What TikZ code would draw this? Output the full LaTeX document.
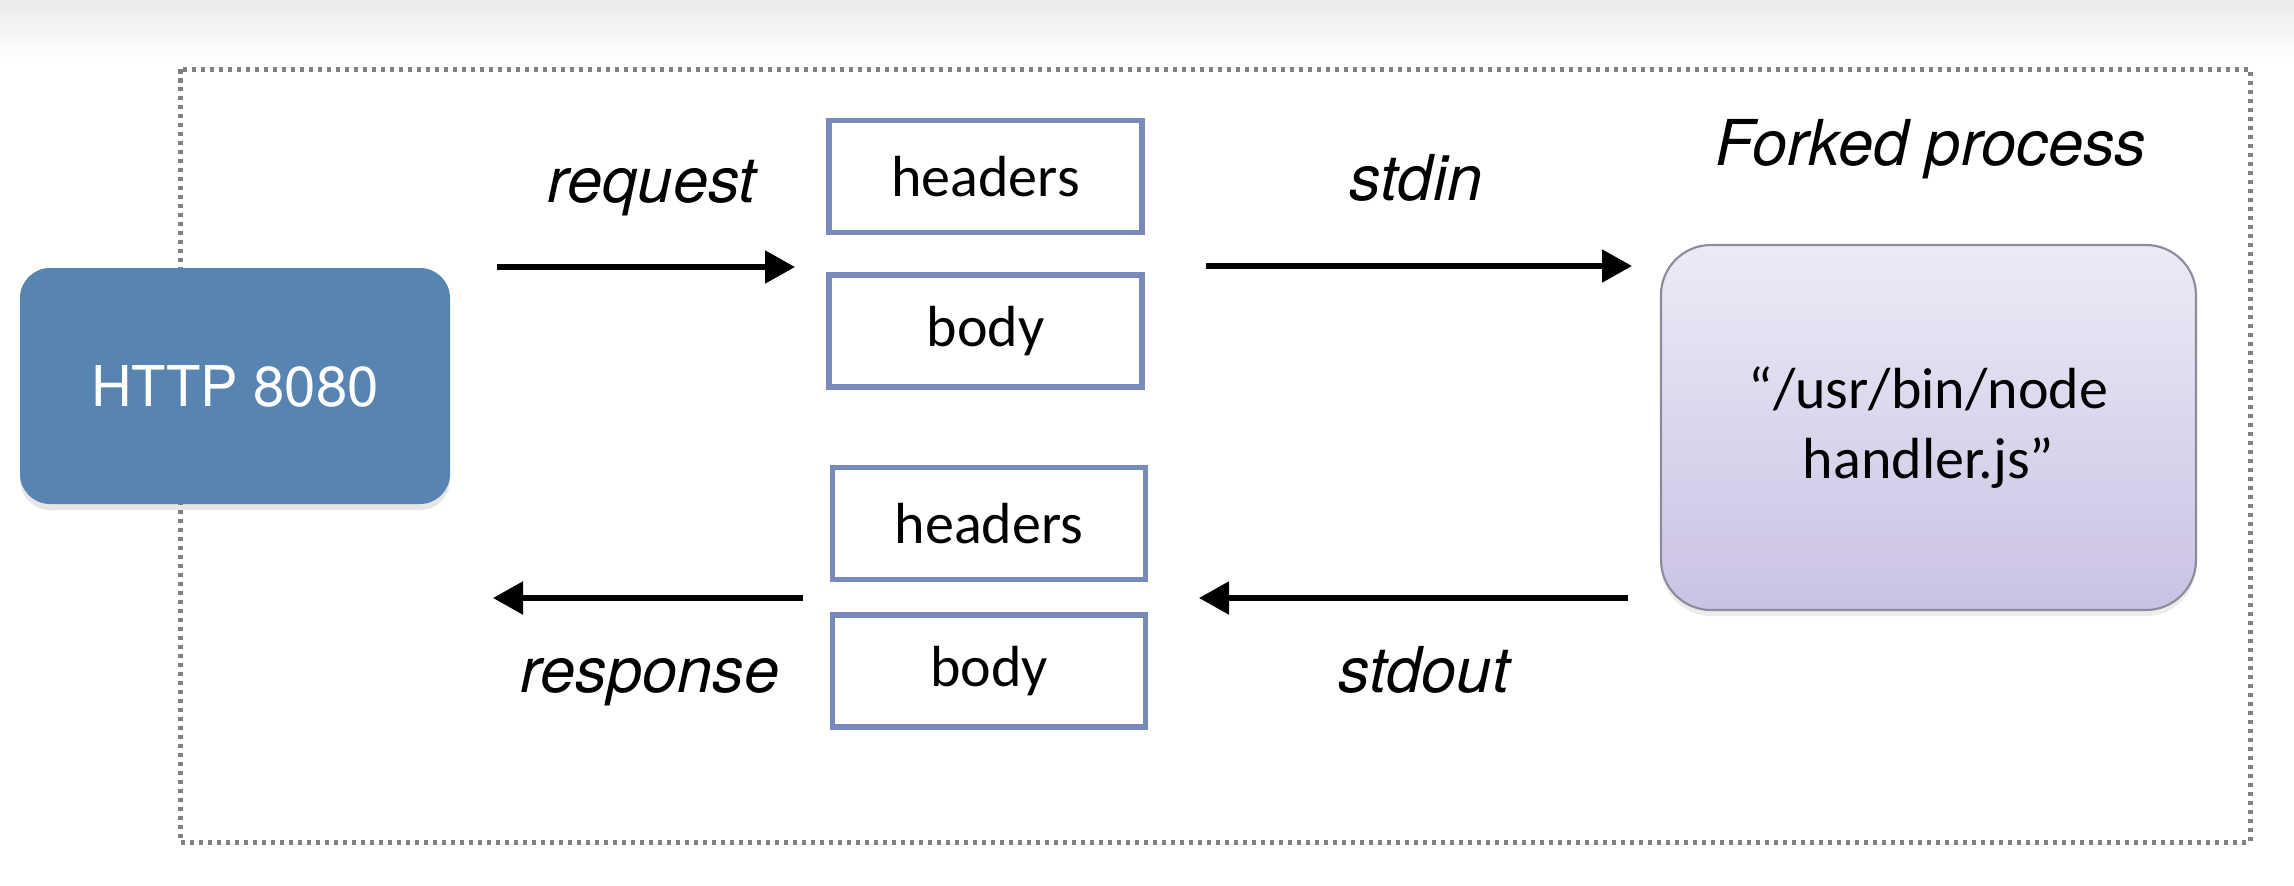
\documentclass[tikz,border=0pt]{standalone}
\usepackage{fontspec}
\setmainfont{Carlito}
\newfontfamily\heros{TeX Gyre Heros}
\usetikzlibrary{arrows.meta,shadows}

\definecolor{httpblue}{RGB}{88,132,178}
\definecolor{partblue}{RGB}{120,138,186}
\definecolor{procedge}{RGB}{140,138,155}
\definecolor{proctop}{RGB}{237,234,246}
\definecolor{procbot}{RGB}{202,194,227}

\begin{document}
\begin{tikzpicture}[
	server/.style={rectangle, rounded corners=0.3cm, fill=httpblue, text=white,
		minimum width=4.3cm, minimum height=2.36cm, font=\heros\fontsize{16}{19}\selectfont,
		drop shadow={opacity=0.2, shadow xshift=0cm, shadow yshift=-0.06cm}},
	part/.style={rectangle, draw=partblue, line width=1.5pt, fill=white,
		minimum width=3.13cm, minimum height=1.12cm, font=\fontsize{16.5}{19}\selectfont},
	proc/.style={rectangle, rounded corners=0.5cm, draw=procedge, line width=0.6pt,
		top color=proctop, bottom color=procbot, minimum width=5.35cm, minimum height=3.65cm,
		align=center, font=\fontsize{16.5}{19.8}\selectfont,
		drop shadow={opacity=0.15, shadow xshift=0cm, shadow yshift=-0.06cm}},
	lbl/.style={anchor=base, font=\heros\itshape\fontsize{18}{22}\selectfont},
	flow/.style={line width=1.5pt, -{Triangle[length=0.3cm,width=0.32cm]}},
	dotbox/.style={draw=black!50, line width=0.05cm, dash pattern=on 0.045cm off 0.045cm}]
	\useasboundingbox (0,0) rectangle (22.94,-8.86);
	\fill[top color=black!8, bottom color=white] (0,0) rectangle (22.94,-0.6);
	\draw[dotbox] (1.80,-0.69) rectangle (22.50,-8.42);

	\node[server] (http) at (2.35,-3.86) {HTTP 8080};
	\node[part] (hdrin) at (9.855,-1.765) {headers};
	\node[part] (bodyin) at (9.855,-3.31) {body};
	\node[part] (hdrout) at (9.89,-5.235) {headers};
	\node[part] (bodyout) at (9.89,-6.71) {body};
	\node[proc] (proc) at (19.285,-4.275) {“/usr/bin/node\\handler.js”};

	\node[lbl] (forked) at (19.31,-1.65) {Forked process};
	\node[lbl] (request) at (6.52,-2.02) {request};
	\node[lbl] (stdin) at (14.16,-2.00) {stdin};
	\node[lbl] (stdout) at (14.24,-6.92) {stdout};
	\node[lbl] (response) at (6.50,-6.92) {response};

	\coordinate (reqA) at (4.97,-2.67);
	\coordinate (reqB) at (7.95,-2.67);
	\coordinate (inA) at (12.06,-2.66);
	\coordinate (inB) at (16.32,-2.66);
	\coordinate (outA) at (16.28,-5.98);
	\coordinate (outB) at (11.99,-5.98);
	\coordinate (resA) at (8.03,-5.98);
	\coordinate (resB) at (4.93,-5.98);
	\draw[flow] (reqA) -- (reqB);
	\draw[flow] (inA) -- (inB);
	\draw[flow] (outA) -- (outB);
	\draw[flow] (resA) -- (resB);
\end{tikzpicture}
\end{document}
